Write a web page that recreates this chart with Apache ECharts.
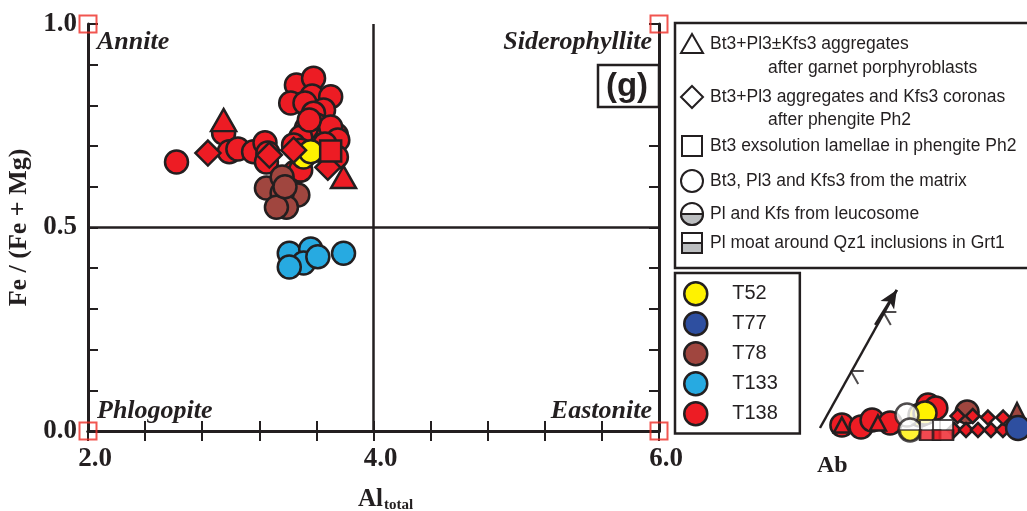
<!DOCTYPE html>
<html><head><meta charset="utf-8">
<script src="https://cdn.jsdelivr.net/npm/echarts@6/dist/echarts.min.js"></script>
<style>html,body{margin:0;padding:0;background:#fff}#c{width:1027px;height:511px}</style>
</head><body><div id="c"></div>
<script>
// ---------- data ----------
const xTickLabels = [2.0, 4.0, 6.0];
const yTickLabels = [0.0, 0.5, 1.0];
const quadrantLabels = ['Annite', 'Siderophyllite', 'Phlogopite', 'Eastonite'];
const panelLabel = '(g)';
const samples = ['T52', 'T77', 'T78', 'T133', 'T138'];
const sampleColors = ['#fff200', '#2e4fa0', '#a0463f', '#27aae1', '#ed1c24'];
const shapeLegendLines = [
  ['Bt3+Pl3±Kfs3 aggregates', 'after garnet porphyroblasts'],
  ['Bt3+Pl3 aggregates and Kfs3 coronas', 'after phengite Ph2'],
  ['Bt3 exsolution lamellae in phengite Ph2'],
  ['Bt3, Pl3 and Kfs3 from the matrix'],
  ['Pl and Kfs from leucosome'],
  ['Pl moat around Qz1 inclusions in Grt1']
];
const insetLabel = 'Ab';

// main diagram: [Al total, Fe/(Fe+Mg)]
const t138Circles = [
  [2.62,0.661],[2.95,0.732],[2.99,0.686],[3.05,0.693],[3.16,0.686],[3.24,0.708],[3.26,0.683],[3.25,0.661],
  [3.46,0.850],[3.58,0.867],[3.42,0.806],[3.57,0.823],[3.70,0.821],[3.52,0.806],[3.65,0.789],[3.58,0.781],
  [3.60,0.752],[3.53,0.744],[3.74,0.727],[3.49,0.722],[3.70,0.747],[3.75,0.715],[3.44,0.703],[3.74,0.673],
  [3.45,0.636],[3.49,0.641],[3.49,0.690],[3.63,0.690],[3.55,0.764],[3.66,0.705]
];
const t138Triangles = [[2.95,0.764],[3.79,0.624]];
const t138Diamonds = [[2.84,0.683],[3.27,0.678],[3.44,0.690],[3.68,0.648]];
const t138Squares = [[3.70,0.688]];
const t52Circles = [[3.51,0.673],[3.56,0.686]];
const t78Circles = [[3.25,0.597],[3.36,0.624],[3.47,0.580],[3.36,0.585],[3.39,0.550],[3.32,0.550],[3.38,0.600]];
const t133Circles = [[3.41,0.437],[3.56,0.447],[3.51,0.413],[3.61,0.428],[3.41,0.403],[3.79,0.437]];

// inset (clipped corner of a second diagram), relative units 0-100
const insetArrow = [[4.6,7.5],[40,93.75]];
const insetChevrons = [[19.5,41.5],[34.5,78.5]];
const insetT138Circles = [[14.7,9.4],[23.5,8.1],[28.6,12.5],[36.9,10.6],[54.4,21.9],[58,20]];
const insetT138Triangles = [[14.7,9.4],[31.3,10.6]];
const insetT138Diamonds = [[66.4,6.25],[71.9,6.25],[77.4,6.25],[83.4,6.25],[88.9,6.25],[68,15],[75,15],[82,14],[89,14]];
const insetT52Circles = [[50.7,15.6],[53,16.9]];
const insetLeucosome = [[46.1,6.25]];
const insetWhiteCircles = [[44.7,15.6]];
const insetMoat = [[55.3,6.25],[61.3,6.25]];
const insetT78Circles = [[72.4,17.5]];
const insetT78Triangles = [[95.4,18.75]];
const insetT77Circles = [[95.9,7.5]];

// ---------- chart ----------
const INK = '#231f20';
const col = s => sampleColors[samples.indexOf(s)];
const chart = echarts.init(document.getElementById('c'), null, {renderer: 'canvas'});

function sc(name, data, symbol, size, grid, extra) {
  return Object.assign({
    type: 'scatter', name, data, symbol, symbolSize: size,
    xAxisIndex: grid ? 2 : 0, yAxisIndex: grid ? 2 : 0,
    itemStyle: {color: col(name), borderColor: INK, borderWidth: 2.5, opacity: 1},
    emphasis: {disabled: true}, z: 5
  }, extra || {});
}
const fmtX = v => xTickLabels.some(t => Math.abs(t - v) < 1e-6) ? v.toFixed(1) : '';
const fmtY = v => yTickLabels.some(t => Math.abs(t - v) < 1e-6) ? v.toFixed(1) : '';
const axLine = {lineStyle: {color: INK, width: 3}};
const axTick = {inside: true, length: 10, lineStyle: {color: INK, width: 2}};
const tickFont = {fontFamily: 'Liberation Serif', fontWeight: 'bold', fontSize: 27, color: INK};

const series = [
  // main plot
  sc('T138', t138Circles, 'circle', 23, 0),
  sc('T52', t52Circles, 'circle', 23, 0),
  sc('T78', t78Circles, 'circle', 23, 0),
  sc('T133', t133Circles, 'circle', 23, 0),
  sc('T138', t138Diamonds, 'diamond', 25, 0),
  sc('T138', t138Squares, 'rect', 21, 0),
  sc('T138', t138Triangles, 'triangle', [25, 22], 0),
  // quadrant dividers
  {type: 'line', data: [], xAxisIndex: 0, yAxisIndex: 0, silent: true,
   markLine: {silent: true, symbol: 'none', label: {show: false},
     lineStyle: {color: INK, width: 2.5, type: 'solid'},
     data: [{xAxis: 4}, {yAxis: 0.5}]}},
  // corner markers
  {type: 'scatter', name: 'corners', data: [[2,0],[2,1],[6,0],[6,1]], symbol: 'rect', symbolSize: 17,
   itemStyle: {color: 'rgba(0,0,0,0)', borderColor: '#ee2a24', borderWidth: 2}, silent: true, z: 10},
  // inset
  {type: 'line', data: insetArrow, xAxisIndex: 2, yAxisIndex: 2, symbol: 'none', silent: true,
   lineStyle: {color: INK, width: 2.5},
   markLine: {silent: true, symbol: ['none', 'arrow'], symbolSize: [12, 18], label: {show: false},
     lineStyle: {color: INK, width: 2.5, type: 'solid'},
     data: [[{coord: [30, 72]}, {coord: insetArrow[1]}]]}},
  {type: 'scatter', data: insetChevrons, xAxisIndex: 2, yAxisIndex: 2, silent: true,
   symbol: 'path://M0,0 L14,0 M0,0 L8,14', symbolSize: [13, 13], symbolOffset: [5, 4],
   itemStyle: {color: 'rgba(0,0,0,0)', borderColor: INK, borderWidth: 2}},
  sc('T138', insetT138Circles, 'circle', 23, 1),
  sc('T138', insetT138Diamonds, 'diamond', 14, 1),
  sc('T138', insetT138Triangles, 'triangle', [16, 15], 1),
  sc('T52', insetT52Circles, 'circle', 23, 1),
  sc('T52', insetWhiteCircles, 'circle', 23, 1, {itemStyle: {color: '#fff', borderColor: INK, borderWidth: 2.5}}),
  sc('T52', insetLeucosome, 'circle', 23, 1, {itemStyle: {color: '#fff', borderColor: INK, borderWidth: 2.5}}),
  sc('T52', insetLeucosome, 'path://M0,0 A10,10 0 0 0 20,0 Z', [21, 10.5], 1, {symbolOffset: [0, 5.2], z: 6, itemStyle: {color: '#fff200', borderColor: INK, borderWidth: 2}}),
  sc('T138', insetMoat, 'rect', 20, 1, {itemStyle: {color: '#fff', borderColor: INK, borderWidth: 2}}),
  sc('T138', insetMoat, 'rect', [20, 10], 1, {symbolOffset: [0, 5], z: 6, itemStyle: {color: '#ed1c24', borderColor: INK, borderWidth: 2}}),
  sc('T78', insetT78Circles, 'circle', 23, 1, {z: 4}),
  sc('T78', insetT78Triangles, 'triangle', [14, 14], 1, {z: 4}),
  sc('T77', insetT77Circles, 'circle', 24, 1)
];

// shape legend drawn as graphic elements
const LX = 692, TX = 710, TX2 = 768;
const rowY = [44, 97, 146, 181, 214, 243];
const legendFont = {fontFamily: 'Liberation Sans', fontSize: 17.5, fill: INK};
const gfx = [
  {type: 'rect', shape: {x: 675, y: 23, width: 360, height: 245}, style: {fill: '#fff', stroke: INK, lineWidth: 2.5}, z: 1},
  {type: 'polygon', shape: {points: [[LX, rowY[0]-10], [LX-11, rowY[0]+9], [LX+11, rowY[0]+9]]}, style: {fill: '#fff', stroke: INK, lineWidth: 2}, z: 2},
  {type: 'polygon', shape: {points: [[LX, rowY[1]-11], [LX+11, rowY[1]], [LX, rowY[1]+11], [LX-11, rowY[1]]]}, style: {fill: '#fff', stroke: INK, lineWidth: 2}, z: 2},
  {type: 'rect', shape: {x: LX-10, y: rowY[2]-10, width: 20, height: 20}, style: {fill: '#fff', stroke: INK, lineWidth: 2}, z: 2},
  {type: 'circle', shape: {cx: LX, cy: rowY[3], r: 11}, style: {fill: '#fff', stroke: INK, lineWidth: 2}, z: 2},
  {type: 'circle', shape: {cx: LX, cy: rowY[4], r: 11}, style: {fill: '#fff', stroke: INK, lineWidth: 2}, z: 2},
  {type: 'sector', shape: {cx: LX, cy: rowY[4], r: 11, r0: 0, startAngle: 0, endAngle: Math.PI, clockwise: true}, style: {fill: '#bcbec0', stroke: INK, lineWidth: 2}, z: 3},
  {type: 'rect', shape: {x: LX-10, y: rowY[5]-10, width: 20, height: 20}, style: {fill: '#fff', stroke: INK, lineWidth: 2}, z: 2},
  {type: 'rect', shape: {x: LX-10, y: rowY[5], width: 20, height: 10}, style: {fill: '#bcbec0', stroke: INK, lineWidth: 2}, z: 3}
];
const textRows = [[0, 0, TX], [0, 1, TX2], [1, 0, TX], [1, 1, TX2], [2, 0, TX], [3, 0, TX], [4, 0, TX], [5, 0, TX]];
const textY = [44, 68, 97, 120, 146, 181, 214, 243];
textRows.forEach(([i, j, x], k) => {
  gfx.push({type: 'text', x, y: textY[k], style: Object.assign({text: shapeLegendLines[i][j], verticalAlign: 'middle'}, legendFont), z: 3});
});
// quadrant labels and panel label
const qFont = {fontFamily: 'Liberation Serif', fontWeight: 'bold', fontStyle: 'italic', fontSize: 26, fill: INK, verticalAlign: 'middle'};
gfx.push({type: 'text', x: 97, y: 42, style: Object.assign({text: quadrantLabels[0], align: 'left'}, qFont), z: 3});
gfx.push({type: 'text', x: 652, y: 42, style: Object.assign({text: quadrantLabels[1], align: 'right'}, qFont), z: 3});
gfx.push({type: 'text', x: 97, y: 411, style: Object.assign({text: quadrantLabels[2], align: 'left'}, qFont), z: 3});
gfx.push({type: 'text', x: 652, y: 411, style: Object.assign({text: quadrantLabels[3], align: 'right'}, qFont), z: 3});
gfx.push({type: 'rect', shape: {x: 598, y: 65, width: 61, height: 42}, style: {fill: '#fff', stroke: INK, lineWidth: 2.5}, z: 3});
gfx.push({type: 'text', x: 627, y: 87, style: {text: panelLabel, fontFamily: 'Liberation Sans', fontWeight: 'bold', fontSize: 33, fill: INK, align: 'center', verticalAlign: 'middle'}, z: 4});
gfx.push({type: 'text', x: 817, y: 466, style: {text: insetLabel, fontFamily: 'Liberation Serif', fontWeight: 'bold', fontSize: 24, fill: INK, align: 'left', verticalAlign: 'middle'}, z: 3});

const option = {
  animation: false,
  backgroundColor: '#fff',
  grid: [
    {left: 88, top: 24, width: 571, height: 407, show: false, containLabel: false, outerBoundsMode: 'none'},
    {left: 810, top: 280, width: 217, height: 160, show: false, containLabel: false, outerBoundsMode: 'none'}
  ],
  xAxis: [
    {type: 'value', gridIndex: 0, min: 2, max: 6, interval: 0.4, position: 'bottom',
     axisLine: axLine, axisTick: axTick, splitLine: {show: false},
     axisLabel: Object.assign({formatter: fmtX, margin: 15, padding: [0, 0, 0, 14]}, tickFont),
     name: '{a|Al}{b|total}', nameLocation: 'middle', nameGap: 55,
     nameTextStyle: {padding: [0, 0, 0, 24], rich: {a: {fontFamily: 'Liberation Serif', fontWeight: 'bold', fontSize: 25, color: INK},
                            b: {fontFamily: 'Liberation Serif', fontWeight: 'bold', fontSize: 15, color: INK, verticalAlign: 'bottom', padding: [12, 0, 0, 1]}}}},
    {type: 'value', gridIndex: 0, min: 2, max: 6, interval: 0.4, position: 'top',
     axisLine: axLine, axisTick: axTick, splitLine: {show: false}, axisLabel: {show: false}},
    {type: 'value', gridIndex: 1, min: 0, max: 100, show: false}
  ],
  yAxis: [
    {type: 'value', gridIndex: 0, min: 0, max: 1, interval: 0.1, position: 'left',
     axisLine: axLine, axisTick: axTick, splitLine: {show: false},
     axisLabel: Object.assign({formatter: fmtY, margin: 11}, tickFont),
     name: 'Fe / (Fe + Mg)', nameLocation: 'middle', nameGap: 48, nameRotate: 90,
     nameTextStyle: {fontFamily: 'Liberation Serif', fontWeight: 'bold', fontSize: 26, color: INK}},
    {type: 'value', gridIndex: 0, min: 0, max: 1, interval: 0.1, position: 'right',
     axisLine: axLine, axisTick: axTick, splitLine: {show: false}, axisLabel: {show: false}},
    {type: 'value', gridIndex: 1, min: 0, max: 100, show: false}
  ],
  legend: {
    orient: 'vertical', left: 675, top: 273,
    data: samples.map(n => ({name: n, icon: 'circle'})),
    itemWidth: 23, itemHeight: 23, itemGap: 4.5,
    padding: [8, 22, 7, 8],
    borderColor: INK, borderWidth: 2.5, backgroundColor: '#fff',
    selectedMode: false,
    textStyle: {fontFamily: 'Liberation Sans', fontSize: 20, lineHeight: 22, color: INK, padding: [0, 0, 0, 20]},
    itemStyle: {borderColor: INK, borderWidth: 2.5}
  },
  graphic: gfx,
  series
};
chart.setOption(option);
</script></body></html>
